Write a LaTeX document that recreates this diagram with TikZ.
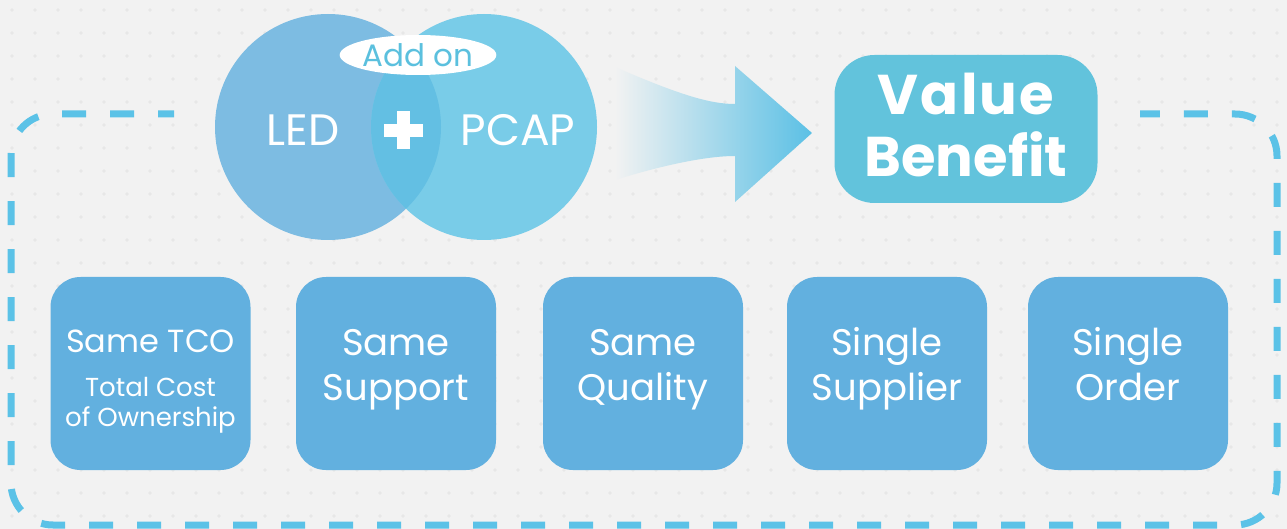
\documentclass[tikz,border=0pt]{standalone}
\usepackage{fontspec}
\setmainfont{Poppins}
\usetikzlibrary{shapes.geometric}

\definecolor{bggray}{HTML}{F2F2F2}
\definecolor{dotgray}{HTML}{E7E7E7}
\definecolor{dashblue}{HTML}{5BC2E7}
\definecolor{ledblue}{HTML}{7DBCE2}
\definecolor{pcapblue}{HTML}{79CCE8}
\definecolor{midblue}{HTML}{63BFE3}
\definecolor{addonblue}{HTML}{5BC0DE}
\definecolor{arrowblue}{HTML}{5BC0E5}
\definecolor{valueblue}{HTML}{62C3DC}
\definecolor{perkblue}{HTML}{62B0DF}

% fixed space above the first and below the last baseline
\newcommand{\uptop}[1]{\rule{0pt}{#1}}
\newcommand{\downbot}[1]{\rule[-#1]{0pt}{#1}}

\tikzset{
  perk/.style={fill=perkblue,rounded corners=30pt,minimum width=200pt,minimum height=193pt,
    inner sep=0pt,text=white,align=center,font=\fontsize{37}{45}\selectfont},
  circletext/.style={text=white,font=\fontsize{44}{44}\selectfont},
}

\begin{document}
\begin{tikzpicture}[x=1pt,y=-1pt]
  \useasboundingbox (0,0) rectangle (1287,529);
  \fill[bggray] (0,0) rectangle (1287,529);
  % faint dot grid
  \foreach \i in {0,...,55}
    \foreach \j in {0,...,22}
      \fill[dotgray] (12+23*\i,10+23*\j) circle[radius=1.8];

  % dashed frame
  \draw[dashblue,line width=7pt,dash pattern=on 24pt off 24pt,dash phase=8pt,rounded corners=42pt]
    (174,114) -- (11,114) -- (11,525) -- (1277,525) -- (1277,114) -- (1140,114);

  % LED + PCAP
  \coordinate (ledc) at (328,127);
  \coordinate (pcapc) at (484,127);
  \fill[ledblue] (ledc) circle[radius=113];
  \fill[pcapblue] (pcapc) circle[radius=113];
  \begin{scope}
    \clip (ledc) circle[radius=113];
    \fill[midblue] (pcapc) circle[radius=113];
  \end{scope}
  \node[circletext] (led) at (303,130) {LED};
  \node[circletext] (pcap) at (518,130) {PCAP};
  \fill[white] (384,124) rectangle (423,137);
  \fill[white] (397,111) rectangle (410,149);
  \node[ellipse,fill=white,minimum width=153pt,minimum height=40pt,inner sep=0pt,
    text=addonblue,font=\fontsize{31}{31}\selectfont] (addon) at (418,55) {Add on};

  % arrow
  \shade[left color=bggray,right color=arrowblue]
    (615,67) .. controls (680,95) and (710,104) .. (735,104) -- (735,66) -- (812,133)
    -- (735,202) -- (735,156) .. controls (705,156) and (660,166) .. (615,180) -- cycle;

  \node[fill=valueblue,rounded corners=40pt,minimum width=263pt,minimum height=148pt,
    inner sep=0pt,text=white,align=center,font=\bfseries\fontsize{56}{62}\selectfont]
    (value) at (966,129) {\uptop{50pt}{\addfontfeatures{LetterSpace=4}Value}\\Benefit\downbot{16pt}};

  % benefits
  \node[perk,font=\fontsize{26}{30}\selectfont] (tco) at (150.5,373.5)
    {\uptop{40pt}{\fontsize{32}{30}\selectfont Same TCO}\\[14pt]Total Cost\\of Ownership\downbot{7.6pt}};
  \node[perk] (support) at (396,373.5) {\uptop{30pt}Same\\Support\downbot{22pt}};
  \node[perk] (quality) at (643,373.5) {\uptop{30pt}Same\\Quality\downbot{22pt}};
  \node[perk] (supplier) at (887,373.5) {\uptop{30pt}Single\\Supplier\downbot{22pt}};
  \node[perk] (order) at (1128,373.5) {\uptop{30pt}Single\\Order\downbot{22pt}};
\end{tikzpicture}
\end{document}
